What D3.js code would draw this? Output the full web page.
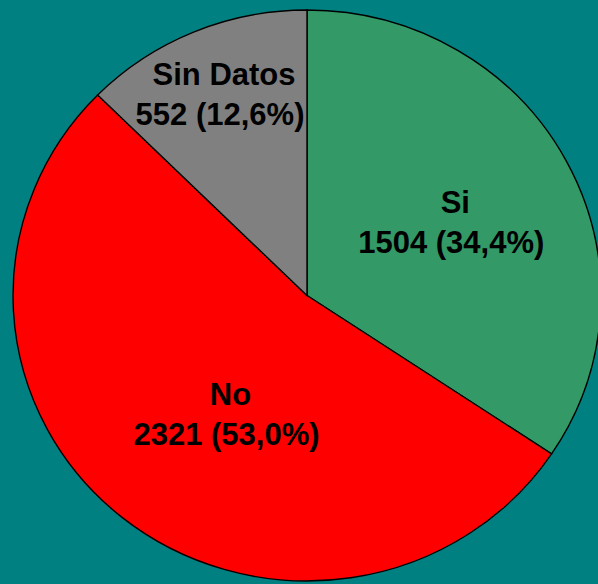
<!DOCTYPE html>
<html>
<head>
<meta charset="utf-8">
<script src="https://cdn.jsdelivr.net/npm/d3@7"></script>
<style>
  html, body { margin: 0; padding: 0; background: #008080; }
  svg { display: block; }
  .lbl { font-family: "Liberation Sans", Arial, sans-serif; font-weight: bold; font-size: 31px; fill: #000; }
</style>
</head>
<body>
<svg id="chart"></svg>
<script>
// data
var categories = ["Si", "No", "Sin Datos"]
var counts = [1504, 2321, 552]
var percents = ["34,4%", "53,0%", "12,6%"]
var colors = ["#339966", "#ff0000", "#808080"]

var svgw = 598
var svgh = 584

var center = {x: 307, y: 295.5}
var ry = 285.5
var rx = 294
var sx = rx / ry

var svg = d3.select("#chart")
    .attr("width", svgw)
    .attr("height", svgh)

svg.append("rect")
    .attr("width", svgw)
    .attr("height", svgh)
    .attr("fill", "#008080")

var pie = d3.pie().sort(null).value(function(d){return d})
var slices = pie(counts)

var arc = d3.arc().innerRadius(0).outerRadius(ry)

// pie is slightly wider than tall, so squash a circle
var pieG = svg.append("g")
    .attr("transform", "translate(" + center.x + "," + center.y + ") scale(" + sx + ",1)")

pieG.selectAll("path")
    .data(slices)
    .enter()
    .append("path")
    .attr("d", arc)
    .attr("fill", function(d, i){return colors[i]})
    .attr("stroke", "#000")
    .attr("stroke-width", 1.4)
    .attr("vector-effect", "non-scaling-stroke")

// labels: centroid of a label arc, then nudged like excel's best fit
var labelR = [160, 150, 205]
var nudge = [[-1, 12.5], [17, 13], [-5.5, -1]]

var labels = svg.append("g")

slices.forEach(function(s, i)
{
    var a = (s.startAngle + s.endAngle) / 2
    var x = center.x + Math.sin(a) * labelR[i] * sx + nudge[i][0]
    var y = center.y - Math.cos(a) * labelR[i] + nudge[i][1]
    var t = labels.append("text")
        .classed("lbl", true)
        .attr("text-anchor", "middle")
    t.append("tspan")
        .attr("x", x + 4)
        .attr("y", y - 20)
        .text(categories[i])
    t.append("tspan")
        .attr("x", x)
        .attr("y", y + 20)
        .text(counts[i] + " (" + percents[i] + ")")
})
</script>
</body>
</html>
